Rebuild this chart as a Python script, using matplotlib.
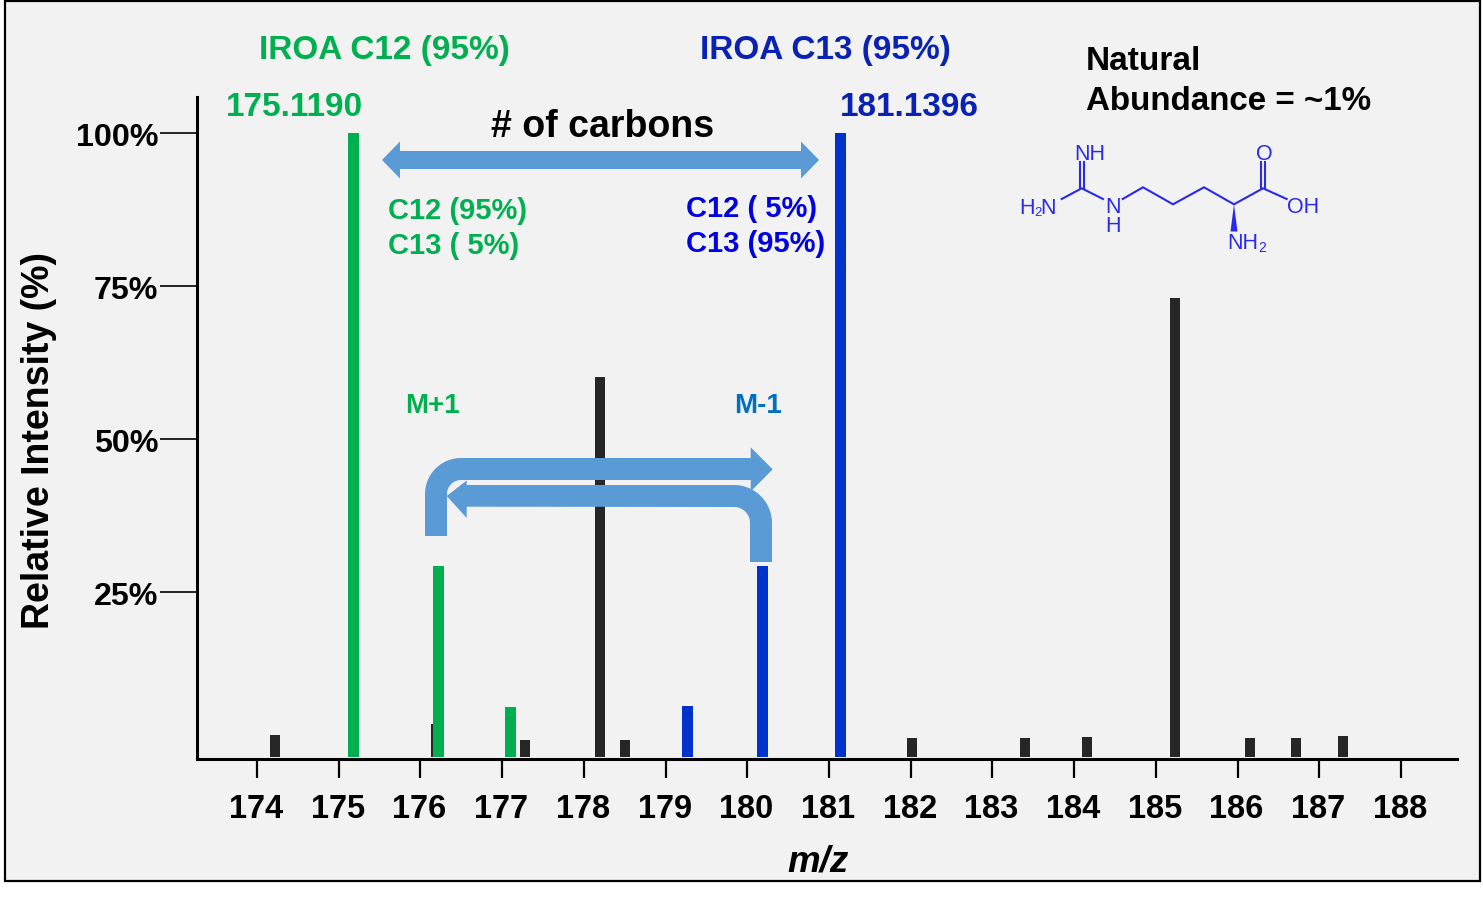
import numpy as np
import matplotlib
matplotlib.use("Agg")
import matplotlib.pyplot as plt
from matplotlib.patches import Polygon, Rectangle
from matplotlib.transforms import ScaledTranslation

plt.rcParams['font.family'] = ['Liberation Sans', 'DejaVu Sans']

# ---------- data ----------
xticks_mz = list(range(174, 189))
yticks_pct = [25, 50, 75, 100]
ytick_labels = ['25%', '50%', '75%', '100%']

black_mz = [174.22, 176.19, 177.285, 178.20, 178.50, 182.02, 183.40, 184.16, 185.24, 186.15, 186.72, 187.29]
black_int = [1.6, 3.4, 0.8, 60.1, 0.8, 1.1, 1.1, 1.3, 73.0, 1.1, 1.1, 1.5]
green_mz = [175.18, 176.22, 177.10]
green_int = [100.0, 29.2, 6.2]
blue_mz = [179.27, 180.19, 181.14]
blue_int = [6.4, 29.2, 100.0]

GREEN = '#00b050'
BLUE = '#0033cc'
DARK = '#262626'
ARROW = '#5b9bd5'
BG = '#f2f2f2'
MOL = '#2a2aee'

W, H = 1483, 905
fig = plt.figure(figsize=(W / 100, H / 100), dpi=100, facecolor='white')


def rect(l, t, r, b):
    return [l / W, 1 - b / H, (r - l) / W, (b - t) / H]


# panel background + frame
bg = fig.add_axes([0, 0, 1, 1], zorder=0)
bg.set_xlim(0, W)
bg.set_ylim(H, 0)
bg.axis('off')
bg.add_patch(Rectangle((5, 1), 1475, 880, fc=BG, ec='black', lw=1.6))

# ---------- main axes ----------
PX_L, PX_R, PX_T, PX_B = 197, 1457, 97, 759
X174, PX_PER_MZ = 257, (1401 - 257) / 14
Y100, PX_PER_PCT = 133, 6.12
ax = fig.add_axes(rect(PX_L, PX_T, PX_R, PX_B), zorder=1)
ax.patch.set_visible(False)
ax.set_xlim(174 + (PX_L - X174) / PX_PER_MZ, 174 + (PX_R - X174) / PX_PER_MZ)
ax.set_ylim(100 - (PX_B - Y100) / PX_PER_PCT, 100 + (Y100 - PX_T) / PX_PER_PCT)
for s in ('top', 'right'):
    ax.spines[s].set_visible(False)
for s in ('left', 'bottom'):
    ax.spines[s].set_linewidth(2.2)
ax.set_xticks(xticks_mz)
ax.set_xticklabels([str(v) for v in xticks_mz], fontsize=23.5, fontweight='bold')
ax.set_yticks(yticks_pct)
ax.set_yticklabels(ytick_labels, fontsize=23.2, fontweight='bold')
ax.tick_params(axis='x', length=14, width=1.6, pad=10)
ax.tick_params(axis='y', length=27, width=1.2, pad=1)
shift_x = ScaledTranslation(-1 / 100, -1.5 / 100, fig.dpi_scale_trans)
shift_y = ScaledTranslation(0, -1.5 / 100, fig.dpi_scale_trans)
for lab in ax.get_xticklabels():
    lab.set_transform(lab.get_transform() + shift_x)
for lab in ax.get_yticklabels():
    lab.set_transform(lab.get_transform() + shift_y)

base = ax.get_ylim()[0] + 0.25
wid = 10 / PX_PER_MZ
ax.bar(black_mz, np.array(black_int) - base, bottom=base, width=wid, color=DARK, zorder=2)
ax.bar(green_mz, np.array(green_int) - base, bottom=base, width=wid * 1.08, color=GREEN, zorder=3)
ax.bar(blue_mz, np.array(blue_int) - base, bottom=base, width=wid * 1.08, color=BLUE, zorder=3)

# ---------- overlay in pixel coordinates ----------
ov = fig.add_axes([0, 0, 1, 1], zorder=2)
ov.set_xlim(0, W)
ov.set_ylim(H, 0)
ov.axis('off')


def txt(x, y, s, size, color='black', ha='left', **kw):
    ov.text(x, y, s, fontsize=size, color=color, ha=ha, va='center',
            fontweight=kw.pop('weight', 'bold'), **kw)


txt(39, 440, 'Relative Intensity (%)', 27, ha='center', rotation=90)
txt(818, 862, 'm/z', 26.5, ha='center', style='italic')

txt(259, 51, 'IROA C12 (95%)', 24, GREEN)
txt(700, 51, 'IROA C13 (95%)', 24, '#0a22b4')
txt(226, 108, '175.1190', 24, GREEN)
txt(840, 108, '181.1396', 24, '#0a22b4')
txt(1086, 62, 'Natural', 24)
txt(1086, 102, 'Abundance = ~1%', 23.9)
txt(603, 127, '# of carbons', 27, ha='center')
txt(388, 211, 'C12 (95%)', 21, GREEN)
txt(388, 246, 'C13 ( 5%)', 21, GREEN)
txt(686, 209, 'C12 ( 5%)', 21, '#0000e0')
txt(686, 244, 'C13 (95%)', 21, '#0000e0')
txt(405, 406, 'M+1', 20, GREEN)
txt(734, 406, 'M-1', 20, '#0070c0')

# arrows
ov.add_patch(Polygon([(382, 160), (400, 141.5), (400, 151), (801, 151), (801, 141.5),
                      (819, 160), (801, 178.5), (801, 169), (400, 169), (400, 178.5)],
                     fc=ARROW, ec='none'))


def arc(cx, cy, r, a0, a1):
    t = np.radians(np.linspace(a0, a1, 24))
    return list(zip(cx + r * np.cos(t), cy - r * np.sin(t)))


up = [(425, 536)] + arc(461, 494, 36, 180, 90) + [(750.7, 458), (750.7, 447.3), (772.7, 469.3),
      (750.7, 491.5), (750.7, 480)] + arc(461, 494, 14, 90, 180) + [(447, 536)]
ov.add_patch(Polygon(up, fc=ARROW, ec='none'))
down = [(772, 562)] + arc(734, 523, 38, 0, 90) + [(466.7, 485), (466.7, 480.5), (446.7, 496),
        (466.7, 518), (466.7, 506.7)] + arc(734, 523, 16, 90, 0) + [(750, 562)]
ov.add_patch(Polygon(down, fc=ARROW, ec='none'))

# arginine structure
bonds = [
    [(1061.7, 199), (1081.7, 188.3), (1103, 199)],
    [(1122.7, 199), (1143, 187.3), (1173, 204.3), (1204, 187.3), (1234, 204.3), (1263, 188.3), (1286.7, 199)],
    [(1079.7, 188.3), (1079.7, 162)],
    [(1084, 188.3), (1084, 162)],
    [(1261, 188.3), (1261, 162)],
    [(1265.3, 188.3), (1265.3, 162)],
]
for b in bonds:
    xs, ys = zip(*b)
    ov.plot(xs, ys, color=MOL, lw=1.5, solid_joinstyle='miter')
ov.add_patch(Polygon([(1234, 204.3), (1230.5, 231.5), (1237.5, 231.5)], fc=MOL, ec='none'))
mt = dict(weight='normal')
SZ = 15.5
txt(1090, 154, 'NH', SZ, MOL, ha='center', **mt)
txt(1019, 208, 'H', SZ, MOL, **mt)
txt(1034, 213, '2', 9.5, MOL, **mt)
txt(1040, 208, 'N', SZ, MOL, **mt)
txt(1112.7, 207, 'N', SZ, MOL, ha='center', **mt)
txt(1112.7, 226, 'H', SZ, MOL, ha='center', **mt)
txt(1264.5, 154, 'O', SZ, MOL, ha='center', **mt)
txt(1287, 207, 'OH', SZ, MOL, **mt)
txt(1227, 243, 'NH', SZ, MOL, **mt)
txt(1258, 248, '2', 10, MOL, **mt)

fig.savefig('out.png', dpi=100, facecolor='white')
